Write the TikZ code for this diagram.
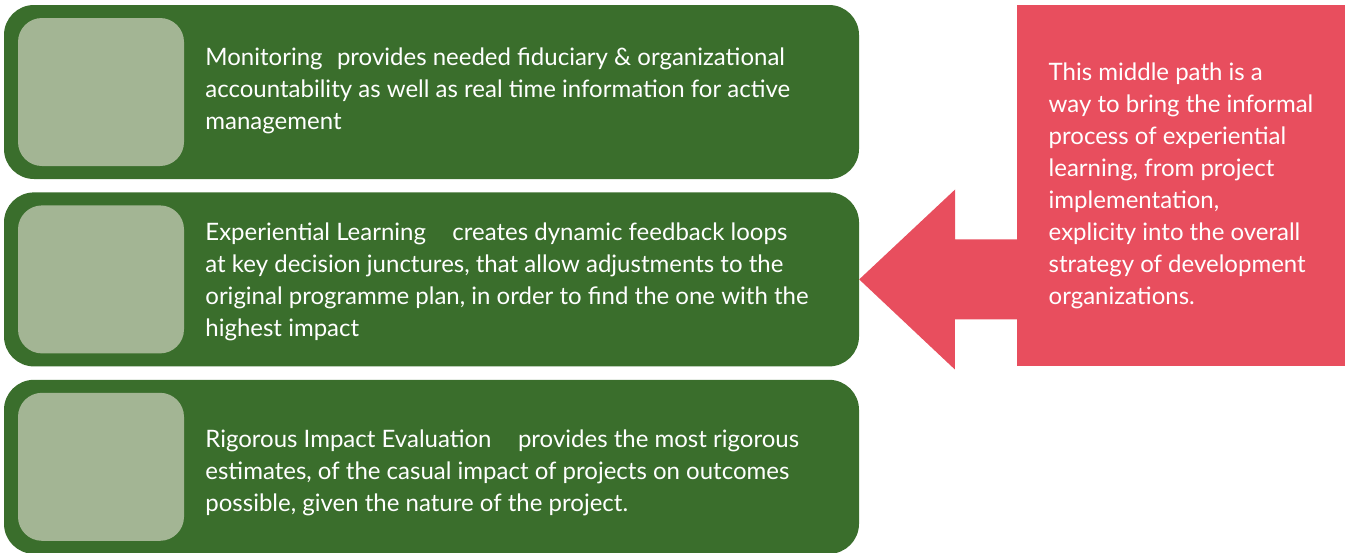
\documentclass[tikz,border=0pt]{standalone}
\usepackage{fontspec}
\setmainfont{Lato}
\usetikzlibrary{calc,positioning}
\definecolor{me-green}{HTML}{3A6E2C}
\definecolor{me-sage}{HTML}{A3B594}
\definecolor{me-red}{HTML}{E84E5E}
\begin{document}
\begin{tikzpicture}[x=1pt,y=-1pt,
  band/.style={fill=me-green, rounded corners=30pt, minimum width=855pt, minimum height=174pt, inner sep=0pt},
  tile/.style={fill=me-sage, rounded corners=24pt, minimum width=166pt, minimum height=148pt, inner sep=0pt},
  txt/.style={text=white, align=left, inner sep=0pt, font=\fontsize{24}{32}\selectfont}]
\useasboundingbox (0,0) rectangle (1349,552);
% three green bands
\node[band] (mon) at (431.5,92) {};
\node[band, below=13pt of mon] (exp) {};
\node[band, below=13pt of exp] (rie) {};
\node[tile, right=14pt of mon.west] (monimg) {};
\node[tile, right=14pt of exp.west] (expimg) {};
\node[tile, right=14pt of rie.west] (rieimg) {};
\node[txt, right=21pt of monimg, yshift=1pt] (montxt) {Monitoring\hspace{0.6em}provides needed fiduciary \& organizational\\accountability as well as real time information for active\\management};
\node[txt, right=21pt of expimg, yshift=-2pt] (exptxt) {Experiential Learning\hspace{1.1em}creates dynamic feedback loops\\at key decision junctures, that allow adjustments to the\\original programme plan, in order to find the one with the\\highest impact};
\node[txt, right=21pt of rieimg, yshift=-6pt] (rietxt) {Rigorous Impact Evaluation\hspace{1.1em}provides the most rigorous\\estimates, of the casual impact of projects on outcomes\\possible, given the nature of the project.};
% note and arrow
\node[fill=me-red, minimum width=328pt, minimum height=361pt, txt] (note) at (1181,185.5) {This middle path is a\\way to bring the informal\\process of experiential\\learning, from project\\implementation,\\explicity into the overall\\strategy of development\\organizations.};
\coordinate (tip) at (exp.east);
\coordinate (base) at (tip -| note.west);
\fill[me-red] (tip) -- ++(96,-90) -- ++(0,50) -- ($(base)+(0,-40)$) -- ($(base)+(0,40)$) -- ++(-62,0) -- ++(0,50) -- cycle;
\end{tikzpicture}
\end{document}
